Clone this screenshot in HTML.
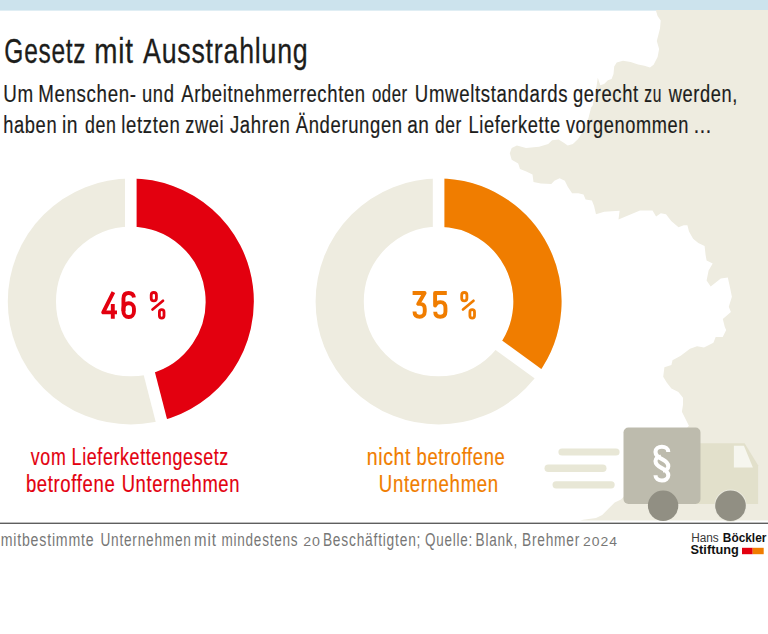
<!DOCTYPE html>
<html><head><meta charset="utf-8"><style>
html,body{margin:0;padding:0;background:#fff;}
body{width:768px;height:634px;overflow:hidden;position:relative;}
svg{position:absolute;left:0;top:0;}
text{font-family:"Liberation Sans",sans-serif;}
.t{stroke-width:0.35px;}
</style></head><body>
<svg width="768" height="634" viewBox="0 0 768 634">
<rect x="0" y="0" width="768" height="10.6" fill="#cce3ed"/>
<path d="M655.8,10.0 L768.0,10.0 L768.0,520.6 L580.0,520.6 L583.4,519.7 L596.0,518.0 L602.2,515.0 L608.4,508.8 L614.7,502.5 L621.0,499.4 L630.0,490.0 L660.0,460.0 L688.9,425.7 L685.4,418.7 L681.9,411.7 L683.0,404.7 L683.0,397.7 L678.4,391.9 L671.4,388.4 L666.7,382.5 L663.2,376.7 L664.4,367.3 L671.4,365.0 L672.5,360.3 L680.7,355.7 L690.0,348.7 L697.0,346.3 L704.0,347.5 L713.4,342.8 L715.7,337.0 L722.7,337.0 L726.2,330.0 L724.8,327.0 L722.8,318.9 L730.9,311.9 L728.8,306.8 L731.9,296.7 L729.8,286.6 L727.8,277.5 L720.8,278.6 L710.7,286.6 L706.6,280.6 L708.6,270.5 L712.7,263.4 L706.6,260.4 L705.6,255.0 L704.6,246.0 L698.3,242.9 L693.1,238.8 L689.0,231.5 L687.4,225.2 L683.8,225.2 L678.5,227.3 L671.2,221.0 L666.0,214.3 L660.8,213.2 L656.1,216.4 L652.5,210.6 L640.0,210.6 L626.2,216.2 L618.5,219.5 L619.6,210.7 L604.2,211.8 L596.0,214.2 L594.0,205.8 L591.9,200.6 L585.6,199.6 L583.5,194.4 L578.3,193.3 L572.1,193.3 L567.9,187.1 L564.8,180.8 L559.6,178.2 L554.4,180.8 L551.3,184.0 L540.8,183.4 L533.5,181.9 L532.5,174.6 L526.3,171.5 L520.0,168.9 L518.2,163.6 L511.7,159.7 L509.8,153.2 L511.7,148.0 L516.9,145.4 L526.0,148.0 L539.1,146.7 L548.2,144.1 L552.1,140.2 L558.6,139.5 L563.8,142.8 L567.7,145.4 L572.9,144.1 L578.1,138.9 L583.3,131.0 L588.5,118.0 L591.1,107.6 L592.7,105.5 L595.2,92.9 L596.5,86.5 L597.8,77.7 L600.3,85.3 L604.1,84.0 L607.9,80.2 L611.6,79.0 L613.5,73.9 L614.2,66.4 L616.7,62.6 L623.0,60.7 L630.6,62.0 L638.1,64.5 L644.4,65.7 L650.0,67.6 L653.6,64.8 L657.6,56.9 L659.1,49.0 L656.8,41.1 L658.4,34.8 L660.0,28.5 L660.7,20.6 L657.6,15.9 Z" fill="#eeece0"/>
<circle cx="130.8" cy="301.5" r="98.90" fill="none" stroke="#eeece0" stroke-width="48.20"/><path d="M130.8,202.6 A98.90,98.90 0 0 1 155.4,397.3" fill="none" stroke="#e3000f" stroke-width="48.20"/><line x1="130.8" y1="230.7" x2="130.8" y2="174.5" stroke="#fff" stroke-width="11.6"/><line x1="148.4" y1="370.1" x2="162.4" y2="424.5" stroke="#fff" stroke-width="11.6"/>
<circle cx="438.6" cy="301.5" r="98.90" fill="none" stroke="#eeece0" stroke-width="48.20"/><path d="M438.6,202.6 A98.90,98.90 0 0 1 518.6,359.6" fill="none" stroke="#f07d00" stroke-width="48.20"/><line x1="438.6" y1="230.7" x2="438.6" y2="174.5" stroke="#fff" stroke-width="11.6"/><line x1="495.9" y1="343.1" x2="541.3" y2="376.1" stroke="#fff" stroke-width="11.6"/>


<g>
<rect x="544.5" y="464.5" width="62" height="7.5" rx="3.75" fill="#e8e7d6"/>
<rect x="558.4" y="448.4" width="61.2" height="7.2" rx="3.6" fill="#e8e7d6"/>
<rect x="552.5" y="481.2" width="62.2" height="7.2" rx="3.6" fill="#e8e7d6"/>
<path d="M690,443.2 L744.6,443.2 L758.1,465.2 L758.1,504.1 L690,504.1 Z" fill="#e2e0cb"/>
<path d="M733.9,445.7 L743.9,445.7 L752.9,467.4 L733.9,467.4 Z" fill="#f6f6ef"/>
<rect x="623.5" y="427.5" width="77" height="76.5" rx="5" fill="#bdbbad"/>
<circle cx="663.1" cy="505.7" r="15.2" fill="#918f83"/>
<circle cx="730.5" cy="505.7" r="16.1" fill="#ebeadf"/>
<circle cx="730.5" cy="505.7" r="15.3" fill="#918f83"/>
</g>

<rect x="0" y="522.6" width="768" height="1.4" fill="#5e5e5e"/>
<g fill="none" stroke="#fff" stroke-width="4.1">
<path d="M668.3,452 C668.3,448.5 665.3,446.8 661.9,446.8 C658.3,446.8 655.5,448.8 655.5,452 C655.5,455.5 658,457.2 662,459.2 C666,461.2 668.3,463 668.3,466.3 C668.3,469 666,470.5 663,470.5"/>
<path d="M655.5,475.3 C655.5,478.8 658.5,480.5 661.9,480.5 C665.5,480.5 668.3,478.5 668.3,475.3 C668.3,471.8 665.8,470.1 661.8,468.1 C657.8,466.1 655.5,464.3 655.5,461 C655.5,458.3 657.8,456.8 660.8,456.8"/>
</g>
<text letter-spacing="1.0" x="4.37" y="62.8" font-size="35" font-weight="normal" fill="#1d1d1b" stroke="#1d1d1b" stroke-width="0.3" textLength="81.99" lengthAdjust="spacingAndGlyphs">Gesetz</text>
<text letter-spacing="1.0" x="94.20" y="62.8" font-size="35" font-weight="normal" fill="#1d1d1b" stroke="#1d1d1b" stroke-width="0.3" textLength="39.52" lengthAdjust="spacingAndGlyphs">mit</text>
<text letter-spacing="1.0" x="143.07" y="62.8" font-size="35" font-weight="normal" fill="#1d1d1b" stroke="#1d1d1b" stroke-width="0.3" textLength="165.39" lengthAdjust="spacingAndGlyphs">Ausstrahlung</text>
<text letter-spacing="0.8" x="3.16" y="101.9" font-size="23.5" font-weight="normal" fill="#1d1d1b" stroke="#1d1d1b" stroke-width="0.2" textLength="30.53" lengthAdjust="spacingAndGlyphs">Um</text>
<text letter-spacing="0.8" x="38.32" y="101.9" font-size="23.5" font-weight="normal" fill="#1d1d1b" stroke="#1d1d1b" stroke-width="0.2" textLength="98.29" lengthAdjust="spacingAndGlyphs">Menschen-</text>
<text letter-spacing="0.8" x="141.95" y="101.9" font-size="23.5" font-weight="normal" fill="#1d1d1b" stroke="#1d1d1b" stroke-width="0.2" textLength="32.60" lengthAdjust="spacingAndGlyphs">und</text>
<text letter-spacing="0.8" x="181.21" y="101.9" font-size="23.5" font-weight="normal" fill="#1d1d1b" stroke="#1d1d1b" stroke-width="0.2" textLength="184.51" lengthAdjust="spacingAndGlyphs">Arbeitnehmerrechten</text>
<text letter-spacing="0.8" x="371.92" y="101.9" font-size="23.5" font-weight="normal" fill="#1d1d1b" stroke="#1d1d1b" stroke-width="0.2" textLength="35.86" lengthAdjust="spacingAndGlyphs">oder</text>
<text letter-spacing="0.8" x="414.86" y="101.9" font-size="23.5" font-weight="normal" fill="#1d1d1b" stroke="#1d1d1b" stroke-width="0.2" textLength="153.38" lengthAdjust="spacingAndGlyphs">Umweltstandards</text>
<text letter-spacing="0.8" x="572.98" y="101.9" font-size="23.5" font-weight="normal" fill="#1d1d1b" stroke="#1d1d1b" stroke-width="0.2" textLength="65.77" lengthAdjust="spacingAndGlyphs">gerecht</text>
<text letter-spacing="0.8" x="644.36" y="101.9" font-size="23.5" font-weight="normal" fill="#1d1d1b" stroke="#1d1d1b" stroke-width="0.2" textLength="17.50" lengthAdjust="spacingAndGlyphs">zu</text>
<text letter-spacing="0.8" x="668.74" y="101.9" font-size="23.5" font-weight="normal" fill="#1d1d1b" stroke="#1d1d1b" stroke-width="0.2" textLength="69.23" lengthAdjust="spacingAndGlyphs">werden,</text>
<text letter-spacing="0.8" x="3.20" y="133.1" font-size="23.5" font-weight="normal" fill="#1d1d1b" stroke="#1d1d1b" stroke-width="0.2" textLength="53.99" lengthAdjust="spacingAndGlyphs">haben</text>
<text letter-spacing="0.8" x="61.94" y="133.1" font-size="23.5" font-weight="normal" fill="#1d1d1b" stroke="#1d1d1b" stroke-width="0.2" textLength="16.30" lengthAdjust="spacingAndGlyphs">in</text>
<text letter-spacing="0.8" x="84.89" y="133.1" font-size="23.5" font-weight="normal" fill="#1d1d1b" stroke="#1d1d1b" stroke-width="0.2" textLength="31.53" lengthAdjust="spacingAndGlyphs">den</text>
<text letter-spacing="0.8" x="121.36" y="133.1" font-size="23.5" font-weight="normal" fill="#1d1d1b" stroke="#1d1d1b" stroke-width="0.2" textLength="59.08" lengthAdjust="spacingAndGlyphs">letzten</text>
<text letter-spacing="0.8" x="185.19" y="133.1" font-size="23.5" font-weight="normal" fill="#1d1d1b" stroke="#1d1d1b" stroke-width="0.2" textLength="38.92" lengthAdjust="spacingAndGlyphs">zwei</text>
<text letter-spacing="0.8" x="229.95" y="133.1" font-size="23.5" font-weight="normal" fill="#1d1d1b" stroke="#1d1d1b" stroke-width="0.2" textLength="60.45" lengthAdjust="spacingAndGlyphs">Jahren</text>
<text letter-spacing="0.8" x="295.75" y="133.1" font-size="23.5" font-weight="normal" fill="#1d1d1b" stroke="#1d1d1b" stroke-width="0.2" textLength="107.00" lengthAdjust="spacingAndGlyphs">Änderungen</text>
<text letter-spacing="0.8" x="407.13" y="133.1" font-size="23.5" font-weight="normal" fill="#1d1d1b" stroke="#1d1d1b" stroke-width="0.2" textLength="22.43" lengthAdjust="spacingAndGlyphs">an</text>
<text letter-spacing="0.8" x="434.97" y="133.1" font-size="23.5" font-weight="normal" fill="#1d1d1b" stroke="#1d1d1b" stroke-width="0.2" textLength="26.92" lengthAdjust="spacingAndGlyphs">der</text>
<text letter-spacing="0.8" x="468.47" y="133.1" font-size="23.5" font-weight="normal" fill="#1d1d1b" stroke="#1d1d1b" stroke-width="0.2" textLength="92.25" lengthAdjust="spacingAndGlyphs">Lieferkette</text>
<text letter-spacing="0.8" x="565.89" y="133.1" font-size="23.5" font-weight="normal" fill="#1d1d1b" stroke="#1d1d1b" stroke-width="0.2" textLength="123.08" lengthAdjust="spacingAndGlyphs">vorgenommen</text>
<text letter-spacing="0.8" x="693.71" y="133.1" font-size="23.5" font-weight="normal" fill="#1d1d1b" stroke="#1d1d1b" stroke-width="0.2" textLength="18.12" lengthAdjust="spacingAndGlyphs">...</text>
<text letter-spacing="0.8" x="30.87" y="465" font-size="23.5" font-weight="normal" fill="#e3000f" stroke="#e3000f" stroke-width="0.2" textLength="35.47" lengthAdjust="spacingAndGlyphs">vom</text>
<text letter-spacing="0.8" x="71.58" y="465" font-size="23.5" font-weight="normal" fill="#e3000f" stroke="#e3000f" stroke-width="0.2" textLength="157.36" lengthAdjust="spacingAndGlyphs">Lieferkettengesetz</text>
<text letter-spacing="0.8" x="25.94" y="491.6" font-size="23.5" font-weight="normal" fill="#e3000f" stroke="#e3000f" stroke-width="0.2" textLength="89.37" lengthAdjust="spacingAndGlyphs">betroffene</text>
<text letter-spacing="0.8" x="121.68" y="491.6" font-size="23.5" font-weight="normal" fill="#e3000f" stroke="#e3000f" stroke-width="0.2" textLength="118.39" lengthAdjust="spacingAndGlyphs">Unternehmen</text>
<text letter-spacing="0.8" x="366.64" y="465" font-size="23.5" font-weight="normal" fill="#f07d00" stroke="#f07d00" stroke-width="0.2" textLength="44.50" lengthAdjust="spacingAndGlyphs">nicht</text>
<text letter-spacing="0.8" x="416.54" y="465" font-size="23.5" font-weight="normal" fill="#f07d00" stroke="#f07d00" stroke-width="0.2" textLength="88.88" lengthAdjust="spacingAndGlyphs">betroffene</text>
<text letter-spacing="0.8" x="378.79" y="491.6" font-size="23.5" font-weight="normal" fill="#f07d00" stroke="#f07d00" stroke-width="0.2" textLength="120.06" lengthAdjust="spacingAndGlyphs">Unternehmen</text>
<g fill="none" stroke="#e3000f" stroke-width="3.9" stroke-linejoin="round">
<path d="M113.4,292.2 L103.2,312.4 L117,312.4 M112.8,304 L112.8,318.8"/>
<path d="M123.45,311 L123.45,298.5 C123.45,294.8 125.5,293.05 128.7,293.05 C131.5,293.05 133.5,294.5 133.95,297.5"/>
<rect x="123.45" y="303.25" width="10.5" height="13.8" rx="5" ry="5.5"/>
<rect x="151.2" y="292.5" width="5.2" height="8.3" rx="2.6" stroke-width="2.8"/>
<rect x="159.4" y="309.6" width="4.6" height="8.5" rx="2.3" stroke-width="2.8"/>
<path d="M152.5,309.5 L163,300.8" stroke-width="2.7" stroke-linecap="round"/>
</g>
<g fill="none" stroke="#f07d00" stroke-width="3.9" stroke-linejoin="round">
<path d="M412.6,293.05 L424.6,293.05 L418.2,303.9 L420,303.9 C423,303.9 424.75,305.5 424.75,309 L424.75,311.5 C424.75,315 422.5,316.75 419.7,316.75 C416.5,316.75 414.5,315 414.5,311.5"/>
<path d="M446.8,293.05 L435.1,293.05 L435.1,305.5 C436,303 438,302.1 440.5,302.1 C444,302.1 445.45,304.5 445.45,308 L445.45,311.5 C445.45,315 443.5,316.75 440.2,316.75 C437,316.75 435.2,315 435.2,311.8"/>
<g transform="translate(310.5,0)">
<rect x="151.2" y="292.5" width="5.2" height="8.3" rx="2.6" stroke-width="2.8"/>
<rect x="159.4" y="309.6" width="4.6" height="8.5" rx="2.3" stroke-width="2.8"/>
<path d="M152.5,309.5 L163,300.8" stroke-width="2.7" stroke-linecap="round"/>
</g>
</g>
<text letter-spacing="1.0" x="0.64" y="545.6" font-size="17.5" font-weight="normal" fill="#777776" stroke="#777776" stroke-width="0.0" textLength="93.85" lengthAdjust="spacingAndGlyphs">mitbestimmte</text>
<text letter-spacing="1.0" x="100.40" y="545.6" font-size="17.5" font-weight="normal" fill="#777776" stroke="#777776" stroke-width="0.0" textLength="91.28" lengthAdjust="spacingAndGlyphs">Unternehmen</text>
<text letter-spacing="1.0" x="194.11" y="545.6" font-size="17.5" font-weight="normal" fill="#777776" stroke="#777776" stroke-width="0.0" textLength="22.59" lengthAdjust="spacingAndGlyphs">mit</text>
<text letter-spacing="1.0" x="221.39" y="545.6" font-size="17.5" font-weight="normal" fill="#777776" stroke="#777776" stroke-width="0.0" textLength="77.03" lengthAdjust="spacingAndGlyphs">mindestens</text>
<text letter-spacing="1.0" x="303.16" y="545.6" font-size="13.6" font-weight="normal" fill="#777776" stroke="#777776" stroke-width="0.0" textLength="17.89" lengthAdjust="spacingAndGlyphs">20</text>
<text letter-spacing="1.0" x="322.89" y="545.6" font-size="17.5" font-weight="normal" fill="#777776" stroke="#777776" stroke-width="0.0" textLength="98.31" lengthAdjust="spacingAndGlyphs">Beschäftigten;</text>
<text letter-spacing="1.0" x="425.01" y="545.6" font-size="17.5" font-weight="normal" fill="#777776" stroke="#777776" stroke-width="0.0" textLength="48.04" lengthAdjust="spacingAndGlyphs">Quelle:</text>
<text letter-spacing="1.0" x="475.59" y="545.6" font-size="17.5" font-weight="normal" fill="#777776" stroke="#777776" stroke-width="0.0" textLength="42.40" lengthAdjust="spacingAndGlyphs">Blank,</text>
<text letter-spacing="1.0" x="521.97" y="545.6" font-size="17.5" font-weight="normal" fill="#777776" stroke="#777776" stroke-width="0.0" textLength="58.13" lengthAdjust="spacingAndGlyphs">Brehmer</text>
<text letter-spacing="1.0" x="583.05" y="545.6" font-size="13.6" font-weight="normal" fill="#777776" stroke="#777776" stroke-width="0.0" textLength="35.11" lengthAdjust="spacingAndGlyphs">2024</text>
<text x="691.2" y="541.9" font-size="12.5" fill="#3a3a3a" textLength="27.6" lengthAdjust="spacingAndGlyphs">Hans</text>
<text x="722.8" y="541.9" font-size="12.5" font-weight="bold" fill="#111" textLength="43.6" lengthAdjust="spacingAndGlyphs">Böckler</text>
<text x="690.6" y="554.2" font-size="12.8" font-weight="bold" fill="#111" textLength="48.2" lengthAdjust="spacingAndGlyphs">Stiftung</text>
<rect x="742" y="547.8" width="10.7" height="6.4" fill="#e3000f"/>
<rect x="752.7" y="547.8" width="11" height="6.4" fill="#f07d00"/>
</svg>
</body></html>
